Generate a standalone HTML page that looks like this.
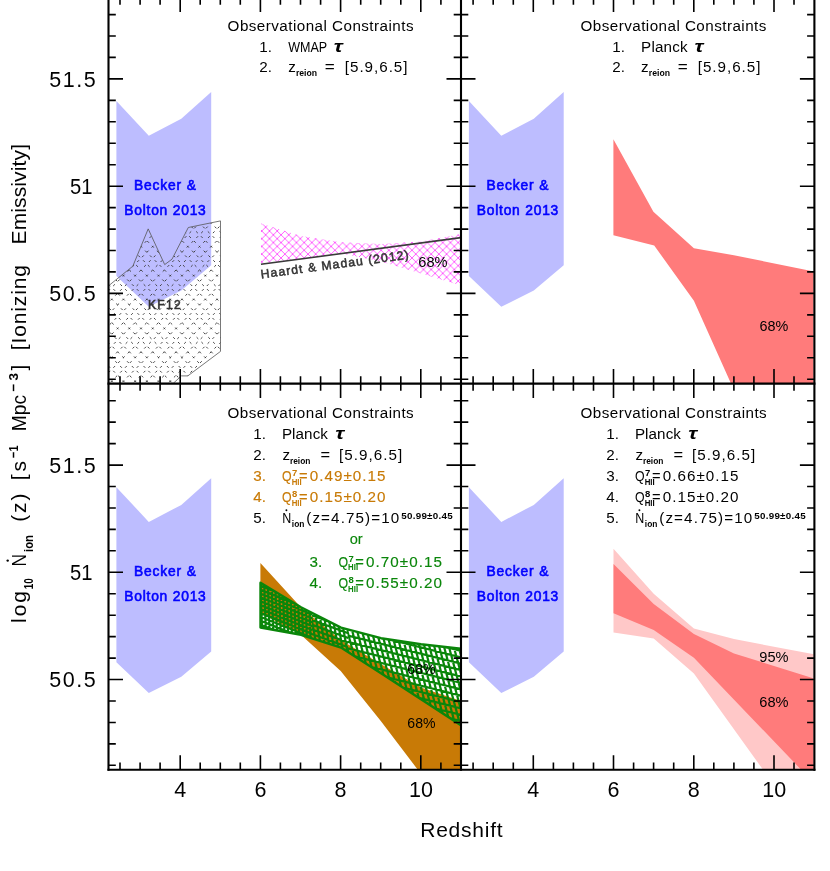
<!DOCTYPE html>
<html><head><meta charset="utf-8"><title>Ionizing emissivity</title>
<style>html,body{margin:0;padding:0;background:#fff}svg{display:block}</style></head>
<body>
<svg width="830" height="871" viewBox="0 0 830 871">
<defs>
<clipPath id="cp00"><rect x="108.5" y="-2.6" width="352.5" height="386.2"/></clipPath>
<clipPath id="cp01"><rect x="461.0" y="-2.6" width="352.5" height="386.2"/></clipPath>
<clipPath id="cp10"><rect x="108.5" y="383.6" width="352.5" height="386.2"/></clipPath>
<clipPath id="cp11"><rect x="461.0" y="383.6" width="352.5" height="386.2"/></clipPath>
<clipPath id="ckf"><polygon points="108.7,285.7 132.8,266.2 148.2,228.9 164.7,264.6 172.0,259.2 188.3,227.5 220.5,220.9 220.5,351.4 187.8,375.9 181.4,375.9 173.2,383.4 108.7,383.4"/></clipPath>
<clipPath id="cgr"><polygon points="260.5,582.7 301.0,607.2 341.0,627.6 381.0,638.2 421.0,644.2 461.3,648.8 461.3,725.5 421.0,699.3 381.0,673.2 341.0,647.6 301.0,634.8 260.5,627.5"/></clipPath>
<pattern id="mag" width="7.7" height="7.7" patternUnits="userSpaceOnUse"><path d="M0 0L7.7 7.7M0 7.7L7.7 0M-1 6.7L1 8.7M6.7 -1L8.7 1M-1 1L1 -1M6.7 8.7L8.7 6.7" stroke="#ff2cff" stroke-width="0.75" fill="none"/></pattern>
</defs>
<rect width="830" height="871" fill="#fff"/>
<polygon points="116.4,101.0 148.8,135.7 181.3,118.7 211.2,92.0 211.2,265.2 181.3,290.5 148.8,306.8 116.4,276.0" fill="#bdbdff"/>
<polygon points="468.9,101.0 501.3,135.7 533.8,118.7 563.7,92.0 563.7,265.2 533.8,290.5 501.3,306.8 468.9,276.0" fill="#bdbdff"/>
<polygon points="116.4,487.2 148.8,521.9 181.3,504.9 211.2,478.2 211.2,651.4 181.3,676.7 148.8,693.0 116.4,662.2" fill="#bdbdff"/>
<polygon points="468.9,487.2 501.3,521.9 533.8,504.9 563.7,478.2 563.7,651.4 533.8,676.7 501.3,693.0 468.9,662.2" fill="#bdbdff"/>
<g clip-path="url(#cp00)">
<g clip-path="url(#ckf)" stroke="#3c3c3c" stroke-width="0.95" fill="none" stroke-dasharray="2.4 4.4">
<path d="M-64.0 217.0l172.0 172.0M-52.3 217.0l172.0 172.0M-40.6 217.0l172.0 172.0M-28.9 217.0l172.0 172.0M-17.2 217.0l172.0 172.0M-5.5 217.0l172.0 172.0M6.2 217.0l172.0 172.0M17.9 217.0l172.0 172.0M29.6 217.0l172.0 172.0M41.3 217.0l172.0 172.0M53.0 217.0l172.0 172.0M64.7 217.0l172.0 172.0M76.4 217.0l172.0 172.0M88.1 217.0l172.0 172.0M99.8 217.0l172.0 172.0M111.5 217.0l172.0 172.0M123.2 217.0l172.0 172.0M134.9 217.0l172.0 172.0M146.6 217.0l172.0 172.0M158.3 217.0l172.0 172.0M170.0 217.0l172.0 172.0M181.7 217.0l172.0 172.0M193.4 217.0l172.0 172.0M205.1 217.0l172.0 172.0M216.8 217.0l172.0 172.0M228.5 217.0l172.0 172.0"/>
<path d="M112.0 217.0l-172.0 172.0M123.7 217.0l-172.0 172.0M135.4 217.0l-172.0 172.0M147.1 217.0l-172.0 172.0M158.8 217.0l-172.0 172.0M170.5 217.0l-172.0 172.0M182.2 217.0l-172.0 172.0M193.9 217.0l-172.0 172.0M205.6 217.0l-172.0 172.0M217.3 217.0l-172.0 172.0M229.0 217.0l-172.0 172.0M240.7 217.0l-172.0 172.0M252.4 217.0l-172.0 172.0M264.1 217.0l-172.0 172.0M275.8 217.0l-172.0 172.0M287.5 217.0l-172.0 172.0M299.2 217.0l-172.0 172.0M310.9 217.0l-172.0 172.0M322.6 217.0l-172.0 172.0M334.3 217.0l-172.0 172.0M346.0 217.0l-172.0 172.0M357.7 217.0l-172.0 172.0M369.4 217.0l-172.0 172.0M381.1 217.0l-172.0 172.0M392.8 217.0l-172.0 172.0M404.5 217.0l-172.0 172.0"/>
</g>
<polygon points="108.7,285.7 132.8,266.2 148.2,228.9 164.7,264.6 172.0,259.2 188.3,227.5 220.5,220.9 220.5,351.4 187.8,375.9 181.4,375.9 173.2,383.4 108.7,383.4" fill="none" stroke="#555" stroke-width="0.8"/>
<polygon points="261.0,223.6 301.0,236.0 341.0,242.2 381.0,244.0 421.0,241.5 461.3,234.0 461.3,285.5 421.0,273.5 381.0,261.5 341.0,253.3 301.0,258.5 261.0,263.6" fill="url(#mag)"/>
<line x1="261" y1="264.3" x2="461.3" y2="237.6" stroke="#3a3a3a" stroke-width="1.6"/>
</g>
<g clip-path="url(#cp01)">
<polygon points="613.4,139.2 653.4,211.8 693.9,248.3 733.9,255.2 814.4,271.6 814.4,384.0 731.2,384.0 693.9,300.7 654.2,245.5 613.4,235.3" fill="#ff7b7b"/>
</g>
<g clip-path="url(#cp10)">
<polygon points="260.4,563.0 300.6,607.0 340.7,640.0 380.8,664.0 420.9,687.5 461.3,701.0 461.3,770.0 418.0,770.0 380.8,721.0 340.7,671.0 300.6,634.5 260.4,613.0" fill="#c87a06"/>
<g clip-path="url(#cgr)" stroke="#0a860a" fill="none" stroke-width="2.2">
<svg x="258" y="560" width="54" height="180" viewBox="258 560 54 180" overflow="hidden"><path d="M232.3 520.0L413.2 593.1M231.0 523.3L411.9 596.4M229.6 526.7L410.5 599.8M228.3 530.0L409.2 603.1M226.9 533.3L407.8 606.4M225.6 536.7L406.5 609.8M224.2 540.0L405.1 613.1M222.9 543.4L403.8 616.5M221.5 546.7L402.4 619.8M220.2 550.0L401.1 623.1M218.8 553.4L399.7 626.5M217.5 556.7L398.4 629.8M216.1 560.0L397.0 633.1M214.8 563.4L395.7 636.5M213.4 566.7L394.3 639.8M212.1 570.1L393.0 643.2M210.7 573.4L391.6 646.5M209.4 576.7L390.3 649.8M208.0 580.1L388.9 653.2M206.7 583.4L387.6 656.5M205.3 586.7L386.2 659.8M204.0 590.1L384.9 663.2M202.6 593.4L383.6 666.5M201.3 596.8L382.2 669.9M199.9 600.1L380.9 673.2M198.6 603.4L379.5 676.5M197.2 606.8L378.2 679.9M195.9 610.1L376.8 683.2M194.5 613.5L375.5 686.5M193.2 616.8L374.1 689.9M191.8 620.1L372.8 693.2M190.5 623.5L371.4 696.6M189.1 626.8L370.1 699.9M187.8 630.1L368.7 703.2M186.4 633.5L367.4 706.6M185.1 636.8L366.0 709.9M183.8 640.2L364.7 713.3M182.4 643.5L363.3 716.6M181.1 646.8L362.0 719.9M179.7 650.2L360.6 723.3M178.4 653.5L359.3 726.6M177.0 656.8L357.9 729.9M175.7 660.2L356.6 733.3M174.3 663.5L355.2 736.6M173.0 666.9L353.9 740.0M171.6 670.2L352.5 743.3M170.3 673.5L351.2 746.6M168.9 676.9L349.8 750.0M167.6 680.2L348.5 753.3M166.2 683.5L347.1 756.6M164.9 686.9L345.8 760.0M163.5 690.2L344.4 763.3M162.2 693.6L343.1 766.7M160.8 696.9L341.7 770.0M159.5 700.2L340.4 773.3M158.1 703.6L339.0 776.7M156.8 706.9L337.7 780.0M381.4 548.9L388.2 744.1M377.7 549.0L384.5 744.2M374.0 549.2L380.9 744.4M370.3 549.3L377.2 744.5M366.6 549.4L373.5 744.6M362.9 549.6L369.8 744.8M359.2 549.7L366.1 744.9M355.5 549.8L362.4 745.0M351.8 549.9L358.7 745.1M348.2 550.1L355.0 745.3M344.5 550.2L351.3 745.4M340.8 550.3L347.6 745.5M337.1 550.5L343.9 745.7M333.4 550.6L340.2 745.8M329.7 550.7L336.5 745.9M326.0 550.8L332.8 746.1M322.3 551.0L329.1 746.2M318.6 551.1L325.4 746.3M314.9 551.2L321.7 746.4M311.2 551.4L318.0 746.6M307.5 551.5L314.3 746.7M303.8 551.6L310.6 746.8M300.1 551.8L306.9 747.0M296.4 551.9L303.2 747.1M292.7 552.0L299.5 747.2M289.0 552.1L295.8 747.3M285.3 552.3L292.1 747.5M281.6 552.4L288.4 747.6M277.9 552.5L284.7 747.7M274.2 552.7L281.0 747.9M270.5 552.8L277.3 748.0M266.8 552.9L273.6 748.1M263.1 553.0L269.9 748.2M259.4 553.2L266.2 748.4M255.7 553.3L262.5 748.5M252.0 553.4L258.8 748.6M248.3 553.6L255.1 748.8M244.6 553.7L251.4 748.9M240.9 553.8L247.7 749.0M237.2 553.9L244.0 749.2M233.5 554.1L240.3 749.3M229.8 554.2L236.6 749.4M226.1 554.3L232.9 749.5M222.4 554.5L229.2 749.7M218.7 554.6L225.5 749.8M215.0 554.7L221.8 749.9M211.3 554.9L218.2 750.1M207.6 555.0L214.5 750.2M203.9 555.1L210.8 750.3M200.2 555.2L207.1 750.4M196.5 555.4L203.4 750.6M192.8 555.5L199.7 750.7M189.1 555.6L196.0 750.8M185.5 555.8L192.3 751.0M181.8 555.9L188.6 751.1"/></svg>
<svg x="312" y="560" width="36" height="180" viewBox="312 560 36 180" overflow="hidden"><path d="M272.7 526.1L453.5 591.9M271.2 530.3L452.0 596.1M269.7 534.4L450.5 600.2M268.2 538.5L449.0 604.3M266.7 542.7L447.5 608.5M265.2 546.8L446.0 612.6M263.7 550.9L444.5 616.7M262.2 555.1L443.0 620.9M260.7 559.2L441.5 625.0M259.2 563.4L439.9 629.1M257.7 567.5L438.4 633.3M256.2 571.6L436.9 637.4M254.7 575.8L435.4 641.5M253.2 579.9L433.9 645.7M251.7 584.0L432.4 649.8M250.2 588.2L430.9 654.0M248.6 592.3L429.4 658.1M247.1 596.4L427.9 662.2M245.6 600.6L426.4 666.4M244.1 604.7L424.9 670.5M242.6 608.8L423.4 674.6M241.1 613.0L421.9 678.8M239.6 617.1L420.4 682.9M238.1 621.2L418.9 687.0M236.6 625.4L417.4 691.2M235.1 629.5L415.9 695.3M233.6 633.6L414.4 699.4M232.1 637.8L412.9 703.6M230.6 641.9L411.4 707.7M229.1 646.0L409.8 711.8M227.6 650.2L408.3 716.0M226.1 654.3L406.8 720.1M224.6 658.5L405.3 724.2M223.1 662.6L403.8 728.4M221.6 666.7L402.3 732.5M220.1 670.9L400.8 736.6M218.5 675.0L399.3 740.8M217.0 679.1L397.8 744.9M215.5 683.3L396.3 749.1M214.0 687.4L394.8 753.2M212.5 691.5L393.3 757.3M211.0 695.7L391.8 761.5M209.5 699.8L390.3 765.6M208.0 703.9L388.8 769.7M206.5 708.1L387.3 773.9M408.5 538.7L441.8 727.7M404.3 539.4L437.7 728.5M400.2 540.2L433.5 729.2M396.1 540.9L429.4 729.9M391.9 541.6L425.3 730.7M387.8 542.3L421.1 731.4M383.6 543.1L417.0 732.1M379.5 543.8L412.8 732.9M375.4 544.5L408.7 733.6M371.2 545.3L404.6 734.3M367.1 546.0L400.4 735.0M363.0 546.7L396.3 735.8M358.8 547.5L392.2 736.5M354.7 548.2L388.0 737.2M350.6 548.9L383.9 738.0M346.4 549.6L379.8 738.7M342.3 550.4L375.6 739.4M338.1 551.1L371.5 740.1M334.0 551.8L367.3 740.9M329.9 552.6L363.2 741.6M325.7 553.3L359.1 742.3M321.6 554.0L354.9 743.1M317.5 554.7L350.8 743.8M313.3 555.5L346.7 744.5M309.2 556.2L342.5 745.3M305.1 556.9L338.4 746.0M300.9 557.7L334.3 746.7M296.8 558.4L330.1 747.4M292.7 559.1L326.0 748.2M288.5 559.9L321.9 748.9M284.4 560.6L317.7 749.6M280.2 561.3L313.6 750.4M276.1 562.0L309.4 751.1M272.0 562.8L305.3 751.8M267.8 563.5L301.2 752.5M263.7 564.2L297.0 753.3M259.6 565.0L292.9 754.0M255.4 565.7L288.8 754.7M251.3 566.4L284.6 755.5M247.2 567.1L280.5 756.2M243.0 567.9L276.4 756.9M238.9 568.6L272.2 757.7M234.7 569.3L268.1 758.4M230.6 570.1L263.9 759.1M226.5 570.8L259.8 759.8M222.3 571.5L255.7 760.6M218.2 572.3L251.5 761.3"/></svg>
<svg x="348" y="560" width="116" height="180" viewBox="348 560 116 180" overflow="hidden"><path d="M324.6 508.3L544.4 563.1M323.1 514.3L542.9 569.1M321.6 520.3L541.4 575.1M320.1 526.3L539.9 581.1M318.6 532.4L538.4 587.2M317.1 538.4L536.9 593.2M315.6 544.4L535.4 599.2M314.1 550.4L533.9 605.2M312.6 556.4L532.4 611.2M311.1 562.4L530.9 617.2M309.6 568.5L529.4 623.3M308.1 574.5L527.9 629.3M306.6 580.5L526.4 635.3M305.1 586.5L524.9 641.3M303.6 592.5L523.4 647.3M302.1 598.5L521.9 653.3M300.6 604.5L520.4 659.4M299.1 610.6L518.9 665.4M297.6 616.6L517.4 671.4M296.1 622.6L515.9 677.4M294.6 628.6L514.4 683.4M293.1 634.6L512.9 689.4M291.6 640.6L511.4 695.5M290.1 646.7L509.9 701.5M288.6 652.7L508.4 707.5M287.1 658.7L506.9 713.5M285.6 664.7L505.4 719.5M284.1 670.7L503.9 725.5M282.6 676.7L502.4 731.5M281.1 682.8L500.9 737.6M279.6 688.8L499.4 743.6M278.1 694.8L497.9 749.6M276.6 700.8L496.4 755.6M275.1 706.8L494.9 761.6M273.6 712.8L493.4 767.6M272.1 718.9L491.9 773.7M270.6 724.9L490.4 779.7M269.1 730.9L488.9 785.7M267.6 736.9L487.4 791.7M486.0 512.8L543.9 728.8M481.5 514.1L539.3 730.0M476.9 515.3L534.8 731.2M472.4 516.5L530.3 732.4M467.9 517.7L525.7 733.6M463.3 518.9L521.2 734.8M458.8 520.1L516.6 736.1M454.2 521.4L512.1 737.3M449.7 522.6L507.6 738.5M445.2 523.8L503.0 739.7M440.6 525.0L498.5 740.9M436.1 526.2L493.9 742.1M431.5 527.4L489.4 743.4M427.0 528.7L484.9 744.6M422.5 529.9L480.3 745.8M417.9 531.1L475.8 747.0M413.4 532.3L471.2 748.2M408.9 533.5L466.7 749.4M404.3 534.7L462.2 750.7M399.8 536.0L457.6 751.9M395.2 537.2L453.1 753.1M390.7 538.4L448.5 754.3M386.2 539.6L444.0 755.5M381.6 540.8L439.5 756.7M377.1 542.0L434.9 758.0M372.5 543.3L430.4 759.2M368.0 544.5L425.8 760.4M363.5 545.7L421.3 761.6M358.9 546.9L416.8 762.8M354.4 548.1L412.2 764.0M349.8 549.3L407.7 765.3M345.3 550.6L403.1 766.5M340.8 551.8L398.6 767.7M336.2 553.0L394.1 768.9M331.7 554.2L389.5 770.1M327.1 555.4L385.0 771.3M322.6 556.6L380.5 772.6M318.1 557.9L375.9 773.8M313.5 559.1L371.4 775.0M309.0 560.3L366.8 776.2M304.4 561.5L362.3 777.4M299.9 562.7L357.8 778.6M295.4 563.9L353.2 779.9M290.8 565.2L348.7 781.1M286.3 566.4L344.1 782.3M281.7 567.6L339.6 783.5M277.2 568.8L335.1 784.7M272.7 570.0L330.5 785.9M268.1 571.2L326.0 787.2"/></svg>
</g>
<polygon points="260.5,582.7 301.0,607.2 341.0,627.6 381.0,638.2 421.0,644.2 461.3,648.8 461.3,725.5 421.0,699.3 381.0,673.2 341.0,647.6 301.0,634.8 260.5,627.5" fill="none" stroke="#0a860a" stroke-width="2.4" stroke-linejoin="round"/>
</g>
<g clip-path="url(#cp11)">
<polygon points="613.5,548.7 653.7,593.7 693.9,628.5 734.0,639.1 814.4,654.3 814.4,770.0 763.2,770.0 693.9,673.5 653.7,638.5 613.5,632.5" fill="#ffc8c8"/>
<polygon points="613.5,563.9 653.7,604.0 693.9,633.9 734.0,653.4 814.4,678.7 814.4,770.0 801.4,770.0 693.9,657.7 653.7,629.9 613.5,613.2" fill="#ff7b7b"/>
</g>
<path d="M108.5 -2.6V770.8 M461.0 -2.6V770.8 M814.4 -2.6V770.8" stroke="#000" stroke-width="2.1" fill="none"/>
<path d="M107.5 -2.6H815.4 M107.5 383.6H815.4 M107.5 769.7H815.4" stroke="#000" stroke-width="2.1" fill="none"/>
<path d="M120.0 -2.6v7.3 M120.0 376.2v14.6 M120.0 769.7v-7.3 M140.1 -2.6v7.3 M140.1 376.2v14.6 M140.1 769.7v-7.3 M160.1 -2.6v7.3 M160.1 376.2v14.6 M160.1 769.7v-7.3 M180.2 -2.6v14.5 M180.2 369.1v29.0 M180.2 769.7v-14.5 M200.2 -2.6v7.3 M200.2 376.2v14.6 M200.2 769.7v-7.3 M220.3 -2.6v7.3 M220.3 376.2v14.6 M220.3 769.7v-7.3 M240.3 -2.6v7.3 M240.3 376.2v14.6 M240.3 769.7v-7.3 M260.4 -2.6v14.5 M260.4 369.1v29.0 M260.4 769.7v-14.5 M280.4 -2.6v7.3 M280.4 376.2v14.6 M280.4 769.7v-7.3 M300.5 -2.6v7.3 M300.5 376.2v14.6 M300.5 769.7v-7.3 M320.6 -2.6v7.3 M320.6 376.2v14.6 M320.6 769.7v-7.3 M340.6 -2.6v14.5 M340.6 369.1v29.0 M340.6 769.7v-14.5 M360.7 -2.6v7.3 M360.7 376.2v14.6 M360.7 769.7v-7.3 M380.7 -2.6v7.3 M380.7 376.2v14.6 M380.7 769.7v-7.3 M400.8 -2.6v7.3 M400.8 376.2v14.6 M400.8 769.7v-7.3 M420.8 -2.6v14.5 M420.8 369.1v29.0 M420.8 769.7v-14.5 M440.9 -2.6v7.3 M440.9 376.2v14.6 M440.9 769.7v-7.3 M473.1 -2.6v7.3 M473.1 376.2v14.6 M473.1 769.7v-7.3 M493.2 -2.6v7.3 M493.2 376.2v14.6 M493.2 769.7v-7.3 M513.3 -2.6v7.3 M513.3 376.2v14.6 M513.3 769.7v-7.3 M533.3 -2.6v14.5 M533.3 369.1v29.0 M533.3 769.7v-14.5 M553.4 -2.6v7.3 M553.4 376.2v14.6 M553.4 769.7v-7.3 M573.4 -2.6v7.3 M573.4 376.2v14.6 M573.4 769.7v-7.3 M593.5 -2.6v7.3 M593.5 376.2v14.6 M593.5 769.7v-7.3 M613.5 -2.6v14.5 M613.5 369.1v29.0 M613.5 769.7v-14.5 M633.6 -2.6v7.3 M633.6 376.2v14.6 M633.6 769.7v-7.3 M653.6 -2.6v7.3 M653.6 376.2v14.6 M653.6 769.7v-7.3 M673.7 -2.6v7.3 M673.7 376.2v14.6 M673.7 769.7v-7.3 M693.8 -2.6v14.5 M693.8 369.1v29.0 M693.8 769.7v-14.5 M713.8 -2.6v7.3 M713.8 376.2v14.6 M713.8 769.7v-7.3 M733.9 -2.6v7.3 M733.9 376.2v14.6 M733.9 769.7v-7.3 M753.9 -2.6v7.3 M753.9 376.2v14.6 M753.9 769.7v-7.3 M774.0 -2.6v14.5 M774.0 369.1v29.0 M774.0 769.7v-14.5 M794.0 -2.6v7.3 M794.0 376.2v14.6 M794.0 769.7v-7.3 M108.5 379.2h7.3 M453.7 379.2h14.6 M814.4 379.2h-7.3 M108.5 357.7h7.3 M453.7 357.7h14.6 M814.4 357.7h-7.3 M108.5 336.3h7.3 M453.7 336.3h14.6 M814.4 336.3h-7.3 M108.5 314.9h7.3 M453.7 314.9h14.6 M814.4 314.9h-7.3 M108.5 293.4h14.5 M446.5 293.4h29.0 M814.4 293.4h-14.5 M108.5 271.9h7.3 M453.7 271.9h14.6 M814.4 271.9h-7.3 M108.5 250.5h7.3 M453.7 250.5h14.6 M814.4 250.5h-7.3 M108.5 229.1h7.3 M453.7 229.1h14.6 M814.4 229.1h-7.3 M108.5 207.6h7.3 M453.7 207.6h14.6 M814.4 207.6h-7.3 M108.5 186.2h14.5 M446.5 186.2h29.0 M814.4 186.2h-14.5 M108.5 164.7h7.3 M453.7 164.7h14.6 M814.4 164.7h-7.3 M108.5 143.2h7.3 M453.7 143.2h14.6 M814.4 143.2h-7.3 M108.5 121.8h7.3 M453.7 121.8h14.6 M814.4 121.8h-7.3 M108.5 100.4h7.3 M453.7 100.4h14.6 M814.4 100.4h-7.3 M108.5 78.9h14.5 M446.5 78.9h29.0 M814.4 78.9h-14.5 M108.5 57.4h7.3 M453.7 57.4h14.6 M814.4 57.4h-7.3 M108.5 36.0h7.3 M453.7 36.0h14.6 M814.4 36.0h-7.3 M108.5 14.6h7.3 M453.7 14.6h14.6 M814.4 14.6h-7.3 M108.5 765.3h7.3 M453.7 765.3h14.6 M814.4 765.3h-7.3 M108.5 743.9h7.3 M453.7 743.9h14.6 M814.4 743.9h-7.3 M108.5 722.5h7.3 M453.7 722.5h14.6 M814.4 722.5h-7.3 M108.5 701.0h7.3 M453.7 701.0h14.6 M814.4 701.0h-7.3 M108.5 679.5h14.5 M446.5 679.5h29.0 M814.4 679.5h-14.5 M108.5 658.1h7.3 M453.7 658.1h14.6 M814.4 658.1h-7.3 M108.5 636.6h7.3 M453.7 636.6h14.6 M814.4 636.6h-7.3 M108.5 615.2h7.3 M453.7 615.2h14.6 M814.4 615.2h-7.3 M108.5 593.8h7.3 M453.7 593.8h14.6 M814.4 593.8h-7.3 M108.5 572.3h14.5 M446.5 572.3h29.0 M814.4 572.3h-14.5 M108.5 550.8h7.3 M453.7 550.8h14.6 M814.4 550.8h-7.3 M108.5 529.4h7.3 M453.7 529.4h14.6 M814.4 529.4h-7.3 M108.5 508.0h7.3 M453.7 508.0h14.6 M814.4 508.0h-7.3 M108.5 486.5h7.3 M453.7 486.5h14.6 M814.4 486.5h-7.3 M108.5 465.1h14.5 M446.5 465.1h29.0 M814.4 465.1h-14.5 M108.5 443.6h7.3 M453.7 443.6h14.6 M814.4 443.6h-7.3 M108.5 422.1h7.3 M453.7 422.1h14.6 M814.4 422.1h-7.3 M108.5 400.7h7.3 M453.7 400.7h14.6 M814.4 400.7h-7.3" stroke="#000" stroke-width="1.6" fill="none"/>
<g font-family="Liberation Sans, sans-serif" style="opacity:0.999">
<text x="180.2" y="796.5" font-size="21.5" fill="#000" text-anchor="middle" >4</text>
<text x="533.3" y="796.5" font-size="21.5" fill="#000" text-anchor="middle" >4</text>
<text x="260.4" y="796.5" font-size="21.5" fill="#000" text-anchor="middle" >6</text>
<text x="613.5" y="796.5" font-size="21.5" fill="#000" text-anchor="middle" >6</text>
<text x="340.6" y="796.5" font-size="21.5" fill="#000" text-anchor="middle" >8</text>
<text x="693.8" y="796.5" font-size="21.5" fill="#000" text-anchor="middle" >8</text>
<text x="409.0" y="796.5" font-size="21.5" fill="#000" textLength="24.0" lengthAdjust="spacing" >10</text>
<text x="762.2" y="796.5" font-size="21.5" fill="#000" textLength="24.0" lengthAdjust="spacing" >10</text>
<text x="49.3" y="86.6" font-size="21.5" fill="#000" textLength="46.5" lengthAdjust="spacing" >51.5</text>
<text x="70.1" y="193.8" font-size="21.5" fill="#000" textLength="22.5" lengthAdjust="spacingAndGlyphs" >51</text>
<text x="49.3" y="301.1" font-size="21.5" fill="#000" textLength="46.5" lengthAdjust="spacing" >50.5</text>
<text x="49.3" y="472.8" font-size="21.5" fill="#000" textLength="46.5" lengthAdjust="spacing" >51.5</text>
<text x="70.1" y="580.0" font-size="21.5" fill="#000" textLength="22.5" lengthAdjust="spacingAndGlyphs" >51</text>
<text x="49.3" y="687.2" font-size="21.5" fill="#000" textLength="46.5" lengthAdjust="spacing" >50.5</text>
<text x="420.2" y="837.3" font-size="21" fill="#000" textLength="82.4" lengthAdjust="spacing" >Redshift</text>
<text transform="translate(25.9 622.9) rotate(-90)" font-size="21" textLength="31.8" lengthAdjust="spacing">log</text>
<text transform="translate(32.7 589.3) rotate(-90)" font-size="13.5" font-weight="bold" textLength="11.0" lengthAdjust="spacingAndGlyphs">10</text>
<text transform="translate(25.9 566.5) rotate(-90)" font-size="21" textLength="12.5" lengthAdjust="spacingAndGlyphs">N</text>
<circle cx="7.7" cy="560.6" r="1.2" fill="#000"/>
<text transform="translate(32.7 552.0) rotate(-90)" font-size="12.5" font-weight="bold" textLength="16.9" lengthAdjust="spacingAndGlyphs">ion</text>
<text transform="translate(25.9 521.8) rotate(-90)" font-size="21" textLength="28.3" lengthAdjust="spacing">(z)</text>
<text transform="translate(25.9 480.2) rotate(-90)" font-size="21" textLength="19.2" lengthAdjust="spacing">[s</text>
<text transform="translate(18.4 458.0) rotate(-90)" font-size="13.5" font-weight="bold" textLength="12.6" lengthAdjust="spacingAndGlyphs">−1</text>
<text transform="translate(25.9 431.2) rotate(-90)" font-size="21" textLength="36.3" lengthAdjust="spacingAndGlyphs">Mpc</text>
<text transform="translate(18.4 391.6) rotate(-90)" font-size="13.5" font-weight="bold" textLength="18.7" lengthAdjust="spacing">−3</text>
<text transform="translate(25.9 370.6) rotate(-90)" font-size="21" textLength="6.3" lengthAdjust="spacing">]</text>
<text transform="translate(25.9 350.2) rotate(-90)" font-size="21" textLength="85.2" lengthAdjust="spacing">[Ionizing</text>
<text transform="translate(25.9 244.5) rotate(-90)" font-size="21" textLength="100.5" lengthAdjust="spacing">Emissivity]</text>
<text x="227.6" y="31.2" font-size="15.2" fill="#000" textLength="185.9" lengthAdjust="spacing" >Observational Constraints</text>
<text x="259.3" y="51.5" font-size="15.2" fill="#000" >1.</text>
<text x="288.2" y="51.5" font-size="15.2" fill="#000" textLength="39.0" lengthAdjust="spacingAndGlyphs" >WMAP</text>
<text x="333.8" y="51.5" font-size="16.5" fill="#000" font-weight="bold" textLength="9.0" lengthAdjust="spacingAndGlyphs" font-style="italic" >τ</text>
<text x="259.3" y="72.2" font-size="15.2" fill="#000" >2.</text>
<text x="288.2" y="72.2" font-size="15.2" fill="#000" >z</text>
<text x="295.9" y="76.0" font-size="9.5" fill="#000" font-weight="bold" textLength="21.2" lengthAdjust="spacingAndGlyphs" >reion</text>
<text x="324.8" y="72.2" font-size="15.2" fill="#000" textLength="10.0" lengthAdjust="spacingAndGlyphs" >=</text>
<text x="344.8" y="72.2" font-size="15.2" fill="#000" textLength="62.7" lengthAdjust="spacing" >[5.9,6.5]</text>
<text x="580.5" y="31.2" font-size="15.2" fill="#000" textLength="185.9" lengthAdjust="spacing" >Observational Constraints</text>
<text x="612.2" y="51.5" font-size="15.2" fill="#000" >1.</text>
<text x="641.1" y="51.5" font-size="15.2" fill="#000" textLength="46.5" lengthAdjust="spacing" >Planck</text>
<text x="694.5" y="51.5" font-size="16.5" fill="#000" font-weight="bold" textLength="9.0" lengthAdjust="spacingAndGlyphs" font-style="italic" >τ</text>
<text x="612.2" y="72.2" font-size="15.2" fill="#000" >2.</text>
<text x="641.1" y="72.2" font-size="15.2" fill="#000" >z</text>
<text x="648.8" y="76.0" font-size="9.5" fill="#000" font-weight="bold" textLength="21.2" lengthAdjust="spacingAndGlyphs" >reion</text>
<text x="677.7" y="72.2" font-size="15.2" fill="#000" textLength="10.0" lengthAdjust="spacingAndGlyphs" >=</text>
<text x="697.7" y="72.2" font-size="15.2" fill="#000" textLength="62.7" lengthAdjust="spacing" >[5.9,6.5]</text>
<text x="227.5" y="417.6" font-size="15.2" fill="#000" textLength="186.2" lengthAdjust="spacing" >Observational Constraints</text>
<text x="253.2" y="438.8" font-size="15.2" fill="#000" >1.</text>
<text x="281.9" y="438.8" font-size="15.2" fill="#000" textLength="46.0" lengthAdjust="spacing" >Planck</text>
<text x="335.2" y="438.8" font-size="16.5" fill="#000" font-weight="bold" textLength="9.0" lengthAdjust="spacingAndGlyphs" font-style="italic" >τ</text>
<text x="253.2" y="460.0" font-size="15.2" fill="#000" >2.</text>
<text x="282.5" y="460.0" font-size="15.2" fill="#000" >z</text>
<text x="289.9" y="463.8" font-size="9.5" fill="#000" font-weight="bold" textLength="20.5" lengthAdjust="spacingAndGlyphs" >reion</text>
<text x="320.5" y="460.0" font-size="15.2" fill="#000" textLength="9.6" lengthAdjust="spacingAndGlyphs" >=</text>
<text x="339.0" y="460.0" font-size="15.2" fill="#000" textLength="63.2" lengthAdjust="spacing" >[5.9,6.5]</text>
<text x="253.2" y="481.0" font-size="15.2" fill="#c87a06" stroke="#c87a06" stroke-width="0.15" >3.</text>
<text x="282.1" y="481.0" font-size="15.2" fill="#c87a06" stroke="#c87a06" stroke-width="0.15" textLength="9.6" lengthAdjust="spacingAndGlyphs" >Q</text>
<text x="292.1" y="476.0" font-size="9.5" fill="#c87a06" font-weight="bold" >7</text>
<text x="291.7" y="484.8" font-size="8.5" fill="#c87a06" font-weight="bold" textLength="10.0" lengthAdjust="spacingAndGlyphs" >HII</text>
<text x="298.9" y="481.0" font-size="15.2" fill="#c87a06" stroke="#c87a06" stroke-width="0.15" textLength="8.6" lengthAdjust="spacingAndGlyphs" >=</text>
<text x="309.7" y="481.0" font-size="15.2" fill="#c87a06" stroke="#c87a06" stroke-width="0.15" textLength="75.8" lengthAdjust="spacing" >0.49±0.15</text>
<text x="253.2" y="502.3" font-size="15.2" fill="#c87a06" stroke="#c87a06" stroke-width="0.15" >4.</text>
<text x="282.1" y="502.3" font-size="15.2" fill="#c87a06" stroke="#c87a06" stroke-width="0.15" textLength="9.6" lengthAdjust="spacingAndGlyphs" >Q</text>
<text x="292.1" y="497.3" font-size="9.5" fill="#c87a06" font-weight="bold" >8</text>
<text x="291.7" y="506.1" font-size="8.5" fill="#c87a06" font-weight="bold" textLength="10.0" lengthAdjust="spacingAndGlyphs" >HII</text>
<text x="298.9" y="502.3" font-size="15.2" fill="#c87a06" stroke="#c87a06" stroke-width="0.15" textLength="8.6" lengthAdjust="spacingAndGlyphs" >=</text>
<text x="309.7" y="502.3" font-size="15.2" fill="#c87a06" stroke="#c87a06" stroke-width="0.15" textLength="75.8" lengthAdjust="spacing" >0.15±0.20</text>
<text x="253.2" y="523.0" font-size="15.2" fill="#000" >5.</text>
<text x="282.2" y="523.0" font-size="15.2" fill="#000" textLength="9.0" lengthAdjust="spacingAndGlyphs" >N</text>
<circle cx="286.4" cy="510.2" r="0.95" fill="#000"/>
<text x="291.8" y="526.8" font-size="9" fill="#000" font-weight="bold" textLength="12.6" lengthAdjust="spacingAndGlyphs" >ion</text>
<text x="306.2" y="523.0" font-size="15.2" fill="#000" textLength="93.1" lengthAdjust="spacing" >(z=4.75)=10</text>
<text x="401.3" y="518.6" font-size="9.8" fill="#000" font-weight="bold" textLength="51.3" lengthAdjust="spacing" >50.99±0.45</text>
<text x="580.5" y="417.6" font-size="15.2" fill="#000" textLength="186.2" lengthAdjust="spacing" >Observational Constraints</text>
<text x="606.2" y="438.8" font-size="15.2" fill="#000" >1.</text>
<text x="634.9" y="438.8" font-size="15.2" fill="#000" textLength="46.0" lengthAdjust="spacing" >Planck</text>
<text x="688.2" y="438.8" font-size="16.5" fill="#000" font-weight="bold" textLength="9.0" lengthAdjust="spacingAndGlyphs" font-style="italic" >τ</text>
<text x="606.2" y="460.0" font-size="15.2" fill="#000" >2.</text>
<text x="635.5" y="460.0" font-size="15.2" fill="#000" >z</text>
<text x="642.9" y="463.8" font-size="9.5" fill="#000" font-weight="bold" textLength="20.5" lengthAdjust="spacingAndGlyphs" >reion</text>
<text x="673.5" y="460.0" font-size="15.2" fill="#000" textLength="9.6" lengthAdjust="spacingAndGlyphs" >=</text>
<text x="692.0" y="460.0" font-size="15.2" fill="#000" textLength="63.2" lengthAdjust="spacing" >[5.9,6.5]</text>
<text x="606.2" y="481.0" font-size="15.2" fill="#000" >3.</text>
<text x="635.1" y="481.0" font-size="15.2" fill="#000" textLength="9.6" lengthAdjust="spacingAndGlyphs" >Q</text>
<text x="645.1" y="476.0" font-size="9.5" fill="#000" font-weight="bold" >7</text>
<text x="644.7" y="484.8" font-size="8.5" fill="#000" font-weight="bold" textLength="10.0" lengthAdjust="spacingAndGlyphs" >HII</text>
<text x="651.9" y="481.0" font-size="15.2" fill="#000" textLength="8.6" lengthAdjust="spacingAndGlyphs" >=</text>
<text x="662.7" y="481.0" font-size="15.2" fill="#000" textLength="75.8" lengthAdjust="spacing" >0.66±0.15</text>
<text x="606.2" y="502.3" font-size="15.2" fill="#000" >4.</text>
<text x="635.1" y="502.3" font-size="15.2" fill="#000" textLength="9.6" lengthAdjust="spacingAndGlyphs" >Q</text>
<text x="645.1" y="497.3" font-size="9.5" fill="#000" font-weight="bold" >8</text>
<text x="644.7" y="506.1" font-size="8.5" fill="#000" font-weight="bold" textLength="10.0" lengthAdjust="spacingAndGlyphs" >HII</text>
<text x="651.9" y="502.3" font-size="15.2" fill="#000" textLength="8.6" lengthAdjust="spacingAndGlyphs" >=</text>
<text x="662.7" y="502.3" font-size="15.2" fill="#000" textLength="75.8" lengthAdjust="spacing" >0.15±0.20</text>
<text x="606.2" y="523.0" font-size="15.2" fill="#000" >5.</text>
<text x="635.2" y="523.0" font-size="15.2" fill="#000" textLength="9.0" lengthAdjust="spacingAndGlyphs" >N</text>
<circle cx="639.4" cy="510.2" r="0.95" fill="#000"/>
<text x="644.8" y="526.8" font-size="9" fill="#000" font-weight="bold" textLength="12.6" lengthAdjust="spacingAndGlyphs" >ion</text>
<text x="659.2" y="523.0" font-size="15.2" fill="#000" textLength="93.1" lengthAdjust="spacing" >(z=4.75)=10</text>
<text x="754.3" y="518.6" font-size="9.8" fill="#000" font-weight="bold" textLength="51.3" lengthAdjust="spacing" >50.99±0.45</text>
<text x="349.7" y="543.8" font-size="15.2" fill="#0a860a" stroke="#0a860a" stroke-width="0.15" textLength="13.0" lengthAdjust="spacingAndGlyphs" >or</text>
<text x="309.6" y="566.6" font-size="15.2" fill="#0a860a" stroke="#0a860a" stroke-width="0.15" >3.</text>
<text x="338.5" y="566.6" font-size="15.2" fill="#0a860a" stroke="#0a860a" stroke-width="0.15" textLength="9.6" lengthAdjust="spacingAndGlyphs" >Q</text>
<text x="348.5" y="561.6" font-size="9.5" fill="#0a860a" font-weight="bold" >7</text>
<text x="348.1" y="570.4" font-size="8.5" fill="#0a860a" font-weight="bold" textLength="10.0" lengthAdjust="spacingAndGlyphs" >HII</text>
<text x="355.3" y="566.6" font-size="15.2" fill="#0a860a" stroke="#0a860a" stroke-width="0.15" textLength="8.6" lengthAdjust="spacingAndGlyphs" >=</text>
<text x="366.1" y="566.6" font-size="15.2" fill="#0a860a" stroke="#0a860a" stroke-width="0.15" textLength="75.8" lengthAdjust="spacing" >0.70±0.15</text>
<text x="309.6" y="587.9" font-size="15.2" fill="#0a860a" stroke="#0a860a" stroke-width="0.15" >4.</text>
<text x="338.5" y="587.9" font-size="15.2" fill="#0a860a" stroke="#0a860a" stroke-width="0.15" textLength="9.6" lengthAdjust="spacingAndGlyphs" >Q</text>
<text x="348.5" y="582.9" font-size="9.5" fill="#0a860a" font-weight="bold" >8</text>
<text x="348.1" y="591.7" font-size="8.5" fill="#0a860a" font-weight="bold" textLength="10.0" lengthAdjust="spacingAndGlyphs" >HII</text>
<text x="355.3" y="587.9" font-size="15.2" fill="#0a860a" stroke="#0a860a" stroke-width="0.15" textLength="8.6" lengthAdjust="spacingAndGlyphs" >=</text>
<text x="366.1" y="587.9" font-size="15.2" fill="#0a860a" stroke="#0a860a" stroke-width="0.15" textLength="75.8" lengthAdjust="spacing" >0.55±0.20</text>
<text x="133.9" y="189.7" font-size="13.8" fill="#0000ff" stroke="#0000ff" stroke-width="0.6" textLength="62.0" lengthAdjust="spacing" >Becker &amp;</text>
<text x="124.2" y="215.0" font-size="13.8" fill="#0000ff" stroke="#0000ff" stroke-width="0.6" textLength="81.6" lengthAdjust="spacing" >Bolton 2013</text>
<text x="486.4" y="189.7" font-size="13.8" fill="#0000ff" stroke="#0000ff" stroke-width="0.6" textLength="62.0" lengthAdjust="spacing" >Becker &amp;</text>
<text x="476.7" y="215.0" font-size="13.8" fill="#0000ff" stroke="#0000ff" stroke-width="0.6" textLength="81.6" lengthAdjust="spacing" >Bolton 2013</text>
<text x="133.9" y="575.9" font-size="13.8" fill="#0000ff" stroke="#0000ff" stroke-width="0.6" textLength="62.0" lengthAdjust="spacing" >Becker &amp;</text>
<text x="124.2" y="601.2" font-size="13.8" fill="#0000ff" stroke="#0000ff" stroke-width="0.6" textLength="81.6" lengthAdjust="spacing" >Bolton 2013</text>
<text x="486.4" y="575.9" font-size="13.8" fill="#0000ff" stroke="#0000ff" stroke-width="0.6" textLength="62.0" lengthAdjust="spacing" >Becker &amp;</text>
<text x="476.7" y="601.2" font-size="13.8" fill="#0000ff" stroke="#0000ff" stroke-width="0.6" textLength="81.6" lengthAdjust="spacing" >Bolton 2013</text>
<text x="148.0" y="308.8" font-size="12" fill="#333" stroke="#333" stroke-width="0.6" textLength="32.6" lengthAdjust="spacing" >KF12</text>
<text transform="translate(261.3 278.4) rotate(-7.6)" font-size="12.2" fill="#333" stroke="#333" stroke-width="0.5" textLength="149" lengthAdjust="spacing">Haardt &amp; Madau (2012)</text>
<text x="418.3" y="266.8" font-size="14.6" fill="#000" textLength="29.2" lengthAdjust="spacingAndGlyphs" >68%</text>
<text x="759.6" y="331.2" font-size="14.6" fill="#000" textLength="28.8" lengthAdjust="spacingAndGlyphs" >68%</text>
<text x="407.3" y="674.2" font-size="14.6" fill="#000" textLength="28.2" lengthAdjust="spacingAndGlyphs" >68%</text>
<text x="407.3" y="727.6" font-size="14.6" fill="#000" textLength="28.2" lengthAdjust="spacingAndGlyphs" >68%</text>
<text x="759.3" y="661.5" font-size="14.6" fill="#000" textLength="29.3" lengthAdjust="spacing" >95%</text>
<text x="759.3" y="706.5" font-size="14.6" fill="#000" textLength="29.3" lengthAdjust="spacing" >68%</text>
</g>
</svg>
</body></html>
